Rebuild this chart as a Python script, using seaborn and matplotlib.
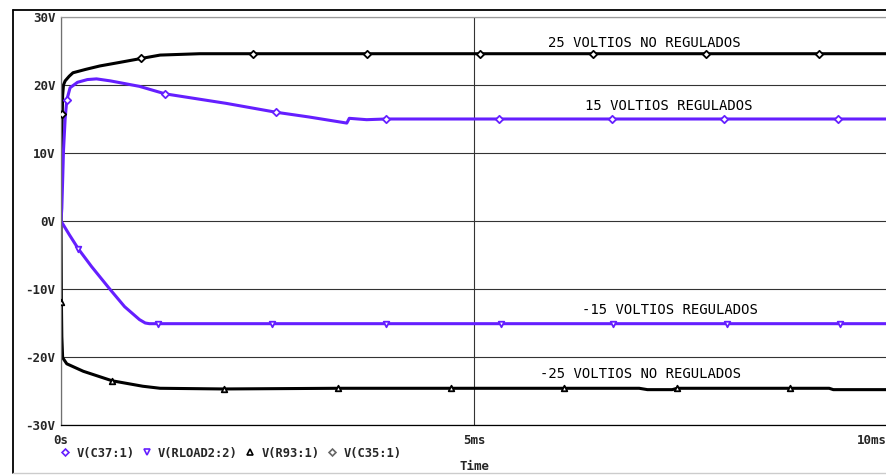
import numpy as np
import pandas as pd
import seaborn as sns
from matplotlib import pyplot as plt
from matplotlib.lines import Line2D

# traces (time in ms, volts)
t_c35 = [0, 0.005, 0.01, 0.015, 0.02, 0.03, 0.05, 0.1, 0.145, 0.3, 0.47, 0.7, 0.97, 1.2, 1.68, 2.32, 3.0, 3.70, 4.4, 5.07, 6.44, 7.81, 9.18, 10]
v_c35 = [0, 6, 12, 15.7, 18.5, 20.0, 20.6, 21.3, 21.8, 22.3, 22.8, 23.3, 23.9, 24.4, 24.6, 24.6, 24.6, 24.6, 24.6, 24.6, 24.6, 24.6, 24.6, 24.6]
mk_c35 = [3, 12, 15, 17, 19, 20, 21, 22]

t_c37 = [0, 0.01, 0.02, 0.03, 0.05, 0.07, 0.11, 0.2, 0.32, 0.43, 0.6, 0.95, 1.26, 2.0, 2.6, 3.0, 3.46, 3.49, 3.7, 3.93, 4.5, 5.30, 6.67, 8.03, 9.41, 10]
v_c37 = [0, 1.9, 6, 10.3, 15, 17.8, 19.6, 20.4, 20.8, 20.9, 20.6, 19.8, 18.7, 17.3, 16.0, 15.3, 14.4, 15.1, 14.9, 15.0, 15.0, 15.0, 15.0, 15.0, 15.0, 15.0]
mk_c37 = [5, 12, 14, 19, 21, 22, 23, 24]

t_rl = [0, 0.1, 0.21, 0.37, 0.59, 0.77, 0.95, 1.02, 1.07, 1.17, 2.55, 3.93, 5.33, 6.68, 8.06, 9.43, 10]
v_rl = [0, -2.0, -4.1, -6.7, -10.0, -12.6, -14.5, -15.0, -15.1, -15.1, -15.1, -15.1, -15.1, -15.1, -15.1, -15.1, -15.1]
mk_rl = [2, 9, 10, 11, 12, 13, 14, 15]

t_r93 = [0, 0.005, 0.01, 0.02, 0.07, 0.27, 0.62, 0.99, 1.2, 1.97, 3.35, 4.72, 6.09, 7.0, 7.1, 7.4, 7.46, 8.83, 9.3, 9.35, 10]
v_r93 = [0, -11.9, -17.0, -20.1, -21.0, -22.1, -23.5, -24.3, -24.6, -24.7, -24.6, -24.6, -24.6, -24.6, -24.8, -24.8, -24.6, -24.6, -24.6, -24.8, -24.8]
mk_r93 = [1, 6, 9, 10, 11, 12, 16, 17]

annotations = ["25 VOLTIOS NO REGULADOS", "15 VOLTIOS REGULADOS", "-15 VOLTIOS REGULADOS", "-25 VOLTIOS NO REGULADOS"]
ann_t = [5.90, 6.34, 6.31, 5.80]
ann_v = [26.2, 16.9, -13.1, -22.5]

legend_names = ["V(C37:1)", "V(RLOAD2:2)", "V(R93:1)", "V(C35:1)"]

purple = '#651fff'

sns.set_style('white')
plt.rcParams['font.family'] = ['DejaVu Sans Mono', 'DejaVu Sans']

fig = plt.figure(figsize=(8.86, 4.75), dpi=100)
ax = fig.add_axes([61/886, 50/475, 826/886, 408/475])

traces = [
    (t_c35, v_c35, mk_c35, 'black', 'D', 14),
    (t_r93, v_r93, mk_r93, 'black', '^', 16),
    (t_c37, v_c37, mk_c37, purple, 'D', 14),
    (t_rl, v_rl, mk_rl, purple, 'v', 16),
]
for t, v, mk, col, m, s in traces:
    df = pd.DataFrame({'t': t, 'v': v})
    sns.lineplot(data=df, x='t', y='v', ax=ax, color=col, lw=2.2, sort=False, estimator=None)
    sns.scatterplot(data=df.iloc[mk], x='t', y='v', ax=ax, marker=m, s=s,
                    facecolor='white', edgecolor=col, linewidth=1.3, zorder=5)

for txt, x, y in zip(annotations, ann_t, ann_v):
    ax.text(x, y, txt, fontsize=10, ha='left', va='center', color='black')

ax.set_xlim(0, 10)
ax.set_ylim(-30, 30)
ax.set_xticks([0, 5, 10])
ax.set_xticklabels(['0s', '5ms', '10ms'], fontweight='bold', fontsize=9)
ax.get_xticklabels()[-1].set_ha('right')
ax.set_yticks(range(-30, 31, 10))
ax.set_yticklabels([f"{v}V" for v in range(-30, 31, 10)], fontweight='bold', fontsize=9)
ax.tick_params(axis='y', direction='out', length=3, width=0.8, pad=1, color='#555555')
ax.tick_params(axis='x', direction='out', length=4, width=0.8, pad=2.5, color='#555555')

ax.grid(True, color='#333333', lw=0.8)
ax.set_axisbelow(True)
ax.spines['left'].set_color('#707070')
ax.spines['top'].set_color('#999999')
ax.spines['bottom'].set_color('black')
for sp in ax.spines.values():
    sp.set_linewidth(0.9)

ax.set_xlabel('')
ax.set_ylabel('')
fig.text(474/886, 1 - 467/475, 'Time', fontweight='bold', fontsize=9, ha='center', va='center')

# legend with markers only
handles = [
    Line2D([], [], ls='none', marker='D', ms=3.5, mfc='white', mec=purple, mew=1.2),
    Line2D([], [], ls='none', marker='v', ms=4, mfc='white', mec=purple, mew=1.2),
    Line2D([], [], ls='none', marker='^', ms=4, mfc='white', mec='black', mew=1.2),
    Line2D([], [], ls='none', marker='D', ms=3.5, mfc='white', mec='#666666', mew=1.2),
]
leg = fig.legend(handles, legend_names, loc='center left', bbox_to_anchor=(53/886, 1 - 453/475),
                 ncol=4, frameon=False, borderpad=0, handlelength=1, handletextpad=0.42,
                 columnspacing=0.55, prop={'weight': 'bold', 'size': 8.7})

# outer frame of the probe window
fig.add_artist(Line2D([12.5/886, 12.5/886], [2/475, 1 - 10/475], color='black', lw=1.3, transform=fig.transFigure))
fig.add_artist(Line2D([12.5/886, 1], [1 - 10/475, 1 - 10/475], color='black', lw=1.3, transform=fig.transFigure))
fig.add_artist(Line2D([12.5/886, 1], [2/475, 2/475], color='#cccccc', lw=1, transform=fig.transFigure))

plt.savefig('out.png', dpi=100)
